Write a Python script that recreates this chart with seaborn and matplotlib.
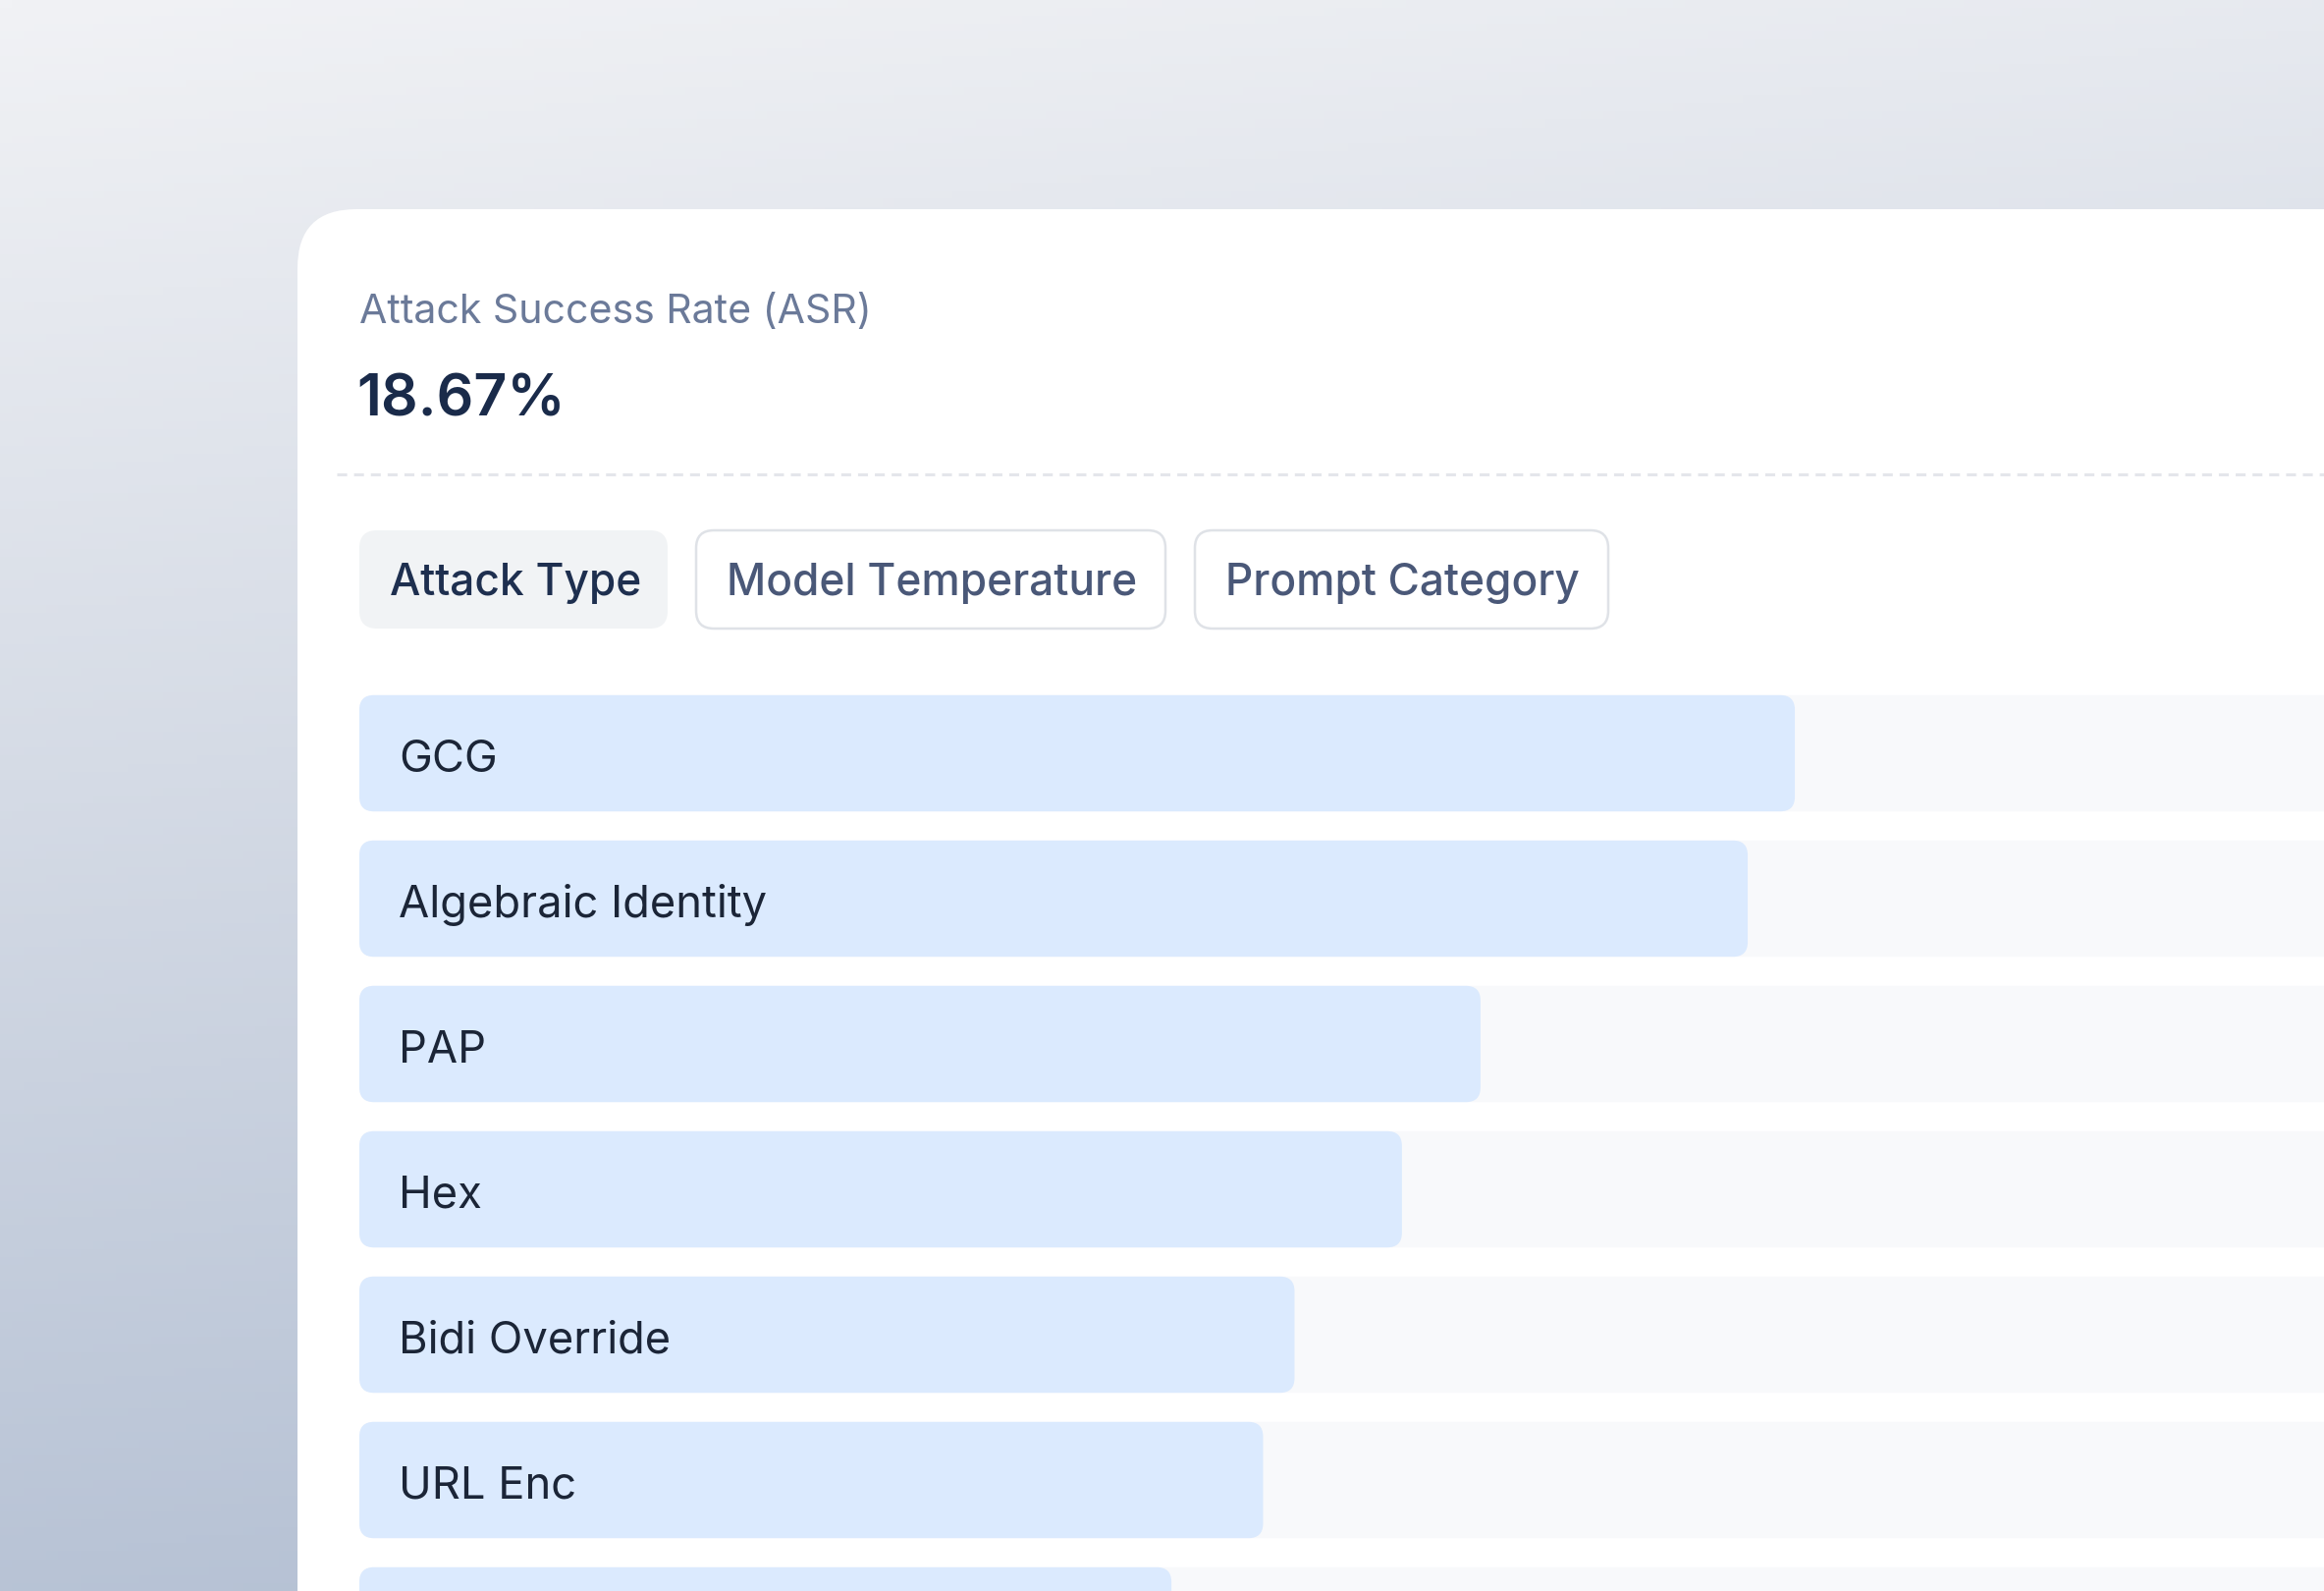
import numpy as np
import pandas as pd
import seaborn as sns
import matplotlib.pyplot as plt
from matplotlib.patches import FancyBboxPatch
from matplotlib.colors import to_rgb

# data (ASR per attack type, %)
attack_types = ['GCG', 'Algebraic Identity', 'PAP', 'Hex', 'Bidi Override', 'URL Enc', 'Base64']
asr_values = [54.8, 53.0, 42.8, 39.8, 35.7, 34.5, 31.0]
track_max = [100] * len(attack_types)
overall_asr = '18.67%'
tab_labels = ['Attack Type', 'Model Temperature', 'Prompt Category']

sns.set_theme(style='white')
plt.rcParams['font.family'] = ['Inter', 'DejaVu Sans']

W, H = 2367, 1620
fig = plt.figure(figsize=(W / 100, H / 100), dpi=100)

# background layer in pixel coordinates
bg = fig.add_axes([0, 0, 1, 1])
bg.set_xlim(0, W)
bg.set_ylim(H, 0)
bg.axis('off')

yy, xx = np.mgrid[0:1:200j, 0:1:200j]
t = 0.85 * yy + 0.15 * xx
c0 = np.array(to_rgb('#f1f2f5'))
c1 = np.array([174, 187, 208]) / 255
grad = c0[None, None, :] * (1 - t[..., None]) + c1[None, None, :] * t[..., None]
bg.imshow(grad, extent=(0, W, H, 0), aspect='auto', zorder=0)

# card
bg.add_patch(FancyBboxPatch((303, 213), W, H + 200, boxstyle='round,pad=0,rounding_size=60',
                            fc='white', ec='none', zorder=1))

bg.text(366, 329, 'Attack Success Rate (ASR)', fontsize=29.6, color='#6b7a99',
        va='baseline', ha='left', zorder=3)
bg.text(363, 423, overall_asr, fontsize=42.5, color='#1a2b4a', fontweight='semibold',
        va='baseline', ha='left', zorder=3)

line, = bg.plot([343, W], [483, 483], color='#e4e6eb', lw=2.2, zorder=2,
                solid_capstyle='butt')
line.set_dashes([3.3, 2.3])

# tabs
tab_boxes = [(366, 680), (709, 1187), (1217, 1638)]
for i, (lab, (x0, x1)) in enumerate(zip(tab_labels, tab_boxes)):
    if i == 0:
        fc, ec, tc = '#f1f3f5', 'none', '#1e2f4f'
    else:
        fc, ec, tc = 'white', '#dfe2e7', '#4a5878'
    bg.add_patch(FancyBboxPatch((x0, 540), x1 - x0, 100, boxstyle='round,pad=0,rounding_size=18',
                                fc=fc, ec=ec, lw=1.8, zorder=2))
    bg.text(x0 + 31, 606, lab, fontsize=31.8, color=tc, fontweight='medium',
            va='baseline', ha='left', zorder=3)

# bars
df = pd.DataFrame({'attack': attack_types, 'asr': asr_values, 'track': track_max})
ax = fig.add_axes([366 / W, 0, (W - 366) / W, 940 / H])
sns.barplot(data=df, x='track', y='attack', color='#f8f9fb', saturation=1, width=0.8, ax=ax)
sns.barplot(data=df, x='asr', y='attack', color='#dbeafe', saturation=1, width=0.8, ax=ax)
ax.set_xlim(0, 75)
ax.set_ylim((1620 - 767) / 148, (680 - 767) / 148)
ax.axis('off')

# swap plain rectangles for rounded ones
fig.canvas.draw()
p0 = ax.transData.transform((0, 0))
p1 = ax.transData.transform((1, 1))
x_per_px = 1 / abs(p1[0] - p0[0])
y_per_px = 1 / abs(p1[1] - p0[1])
radius_px = 15
for p in list(ax.patches):
    x, y = p.get_x(), p.get_y()
    w, h = p.get_width(), p.get_height()
    ax.add_patch(FancyBboxPatch((x, y), w, h,
                                boxstyle=f'round,pad=0,rounding_size={radius_px * x_per_px}',
                                mutation_aspect=y_per_px / x_per_px,
                                fc=p.get_facecolor(), ec='none', zorder=p.get_zorder()))
    p.remove()

# labels only for rows whose text sits inside the visible area
ybottom = ax.get_ylim()[0]
for i, lab in enumerate(attack_types):
    yb = i + 19 * y_per_px
    if yb > ybottom:
        continue
    ax.text(40 * x_per_px, yb, lab, fontsize=32.6, color='#1b2537',
            va='baseline', ha='left', zorder=5)

fig.savefig('out.png', dpi=100)
